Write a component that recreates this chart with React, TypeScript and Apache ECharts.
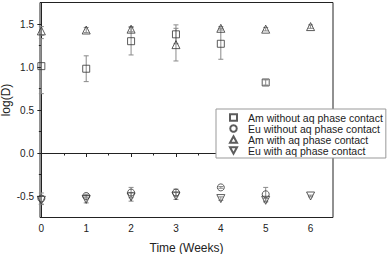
import React, { useEffect, useRef } from "react";
import * as echarts from "echarts";

const weeks = [0, 1, 2, 3, 4, 5, 6];
const amWithout = [1.01, 0.98, 1.3, 1.38, 1.27, 0.82, null];
const amWithoutErr = [0.32, 0.15, 0.16, 0.11, 0.18, 0.03, null];
const euWithout = [-0.53, -0.5, -0.46, -0.46, -0.4, -0.48, null];
const euWithoutErr = [0.065, 0.02, 0.06, 0.04, 0.01, 0.08, null];
const amWith = [1.42, 1.43, 1.44, 1.26, 1.45, 1.44, 1.47];
const amWithErr = [0.05, 0.03, 0.03, 0.19, 0.02, 0.02, 0.02];
const euWith = [-0.55, -0.54, -0.51, -0.5, -0.53, -0.55, -0.5];
const euWithErr = [0.05, 0.04, 0.05, 0.04, 0.02, 0.02, 0.01];

const xMajor = [0, 1, 2, 3, 4, 5, 6];
const xMinor = [0.5, 1.5, 2.5, 3.5, 4.5, 5.5, 6.5];
const yMajor = [-0.5, 0, 0.5, 1, 1.5];
const yMinor = [-0.25, 0.25, 0.75, 1.25];

const names = [
  "Am without aq phase contact",
  "Eu without aq phase contact",
  "Am with aq phase contact",
  "Eu with aq phase contact",
];
const xTitle = "Time (Weeks)";
const yTitle = "log(D)";

const FONT = "Liberation Sans, Arial, sans-serif";
const INK = "#222";

function pts(vals: (number | null)[]) {
  return weeks
    .map((w, i) => (vals[i] == null ? null : [w, vals[i] as number]))
    .filter((d) => d !== null);
}
function errs(vals: (number | null)[], e: (number | null)[]) {
  return weeks
    .map((w, i) =>
      vals[i] == null || e[i] == null
        ? null
        : [w, (vals[i] as number) - (e[i] as number), (vals[i] as number) + (e[i] as number)]
    )
    .filter((d) => d !== null);
}

const errorSeries = (data: any[]) => ({
  type: "custom",
  z: 1,
  silent: true,
  xAxisIndex: 0,
  yAxisIndex: 0,
  encode: { x: 0, y: [1, 2] },
  data,
  renderItem: (params: any, api: any) => {
    const x = api.value(0);
    const lo = api.coord([x, api.value(1)]);
    const hi = api.coord([x, api.value(2)]);
    const w = 2.5;
    const st = { stroke: "#8a8a8a", lineWidth: 1 };
    return {
      type: "group",
      children: [
        { type: "line", shape: { x1: lo[0], y1: lo[1], x2: hi[0], y2: hi[1] }, style: st },
        { type: "line", shape: { x1: lo[0] - w, y1: lo[1], x2: lo[0] + w, y2: lo[1] }, style: st },
        { type: "line", shape: { x1: hi[0] - w, y1: hi[1], x2: hi[0] + w, y2: hi[1] }, style: st },
      ],
    };
  },
});

const markerStyle = { color: "transparent", borderColor: "#333", borderWidth: 1 };

export default function App() {
  const ref = useRef<HTMLDivElement>(null);
  useEffect(() => {
    if (!ref.current) return;
    const chart = echarts.init(ref.current, null, { renderer: "svg" });
    chart.setOption({
      animation: false,
      backgroundColor: "#fff",
      textStyle: { fontFamily: FONT },
      grid: {
        left: 40,
        right: 54,
        top: 2.5,
        bottom: 36.5,
        show: true,
        borderColor: INK,
        borderWidth: 1,
        containLabel: false,
        outerBoundsMode: "none",
      },
      graphic: [
        {
          type: "text",
          x: 6,
          y: 100,
          rotation: Math.PI / 2,
          style: {
            text: yTitle,
            fontFamily: FONT,
            fontSize: 12,
            fill: INK,
            align: "center",
            verticalAlign: "middle",
          },
        },
      ],
      legend: {
        orient: "vertical",
        left: 216,
        top: 109,
        padding: [3, 3, 2, 13],
        itemGap: 0,
        itemWidth: 7,
        itemHeight: 6.5,
        backgroundColor: "#fff",
        borderColor: "#999",
        borderWidth: 1,
        borderRadius: 0,
        textStyle: {
          fontFamily: FONT,
          fontSize: 10.5,
          color: INK,
          lineHeight: 10.7,
          padding: [0, 0, 0, 6],
        },
        data: [
          { name: names[0] },
          { name: names[1] },
          { name: names[2] },
          { name: names[3], icon: "path://M0,0 L10,0 L5,9 Z" },
        ],
      },
      xAxis: [
        {
          type: "value",
          min: -0.03,
          max: 6.5,
          position: "bottom",
          name: xTitle,
          nameLocation: "middle",
          nameGap: 24,
          nameTextStyle: { fontFamily: FONT, fontSize: 12, color: INK },
          splitLine: { show: false },
          axisLine: { show: true, lineStyle: { color: INK, width: 1 } },
          axisTick: { show: true, customValues: xMajor, length: 4, lineStyle: { color: INK } },
          axisLabel: {
            show: true,
            customValues: xMajor,
            fontSize: 10,
            color: INK,
            margin: 6,
            formatter: (v: number) => String(v),
          },
        },
        {
          type: "value",
          min: -0.03,
          max: 6.5,
          position: "bottom",
          splitLine: { show: false },
          axisLine: { show: false },
          axisTick: { show: true, customValues: xMinor, length: 2.5, lineStyle: { color: INK } },
          axisLabel: { show: false },
        },
      ],
      yAxis: [
        {
          type: "value",
          min: -0.75,
          max: 1.75,
          position: "left",
          splitLine: { show: false },
          axisLine: { show: true, lineStyle: { color: INK, width: 1 } },
          axisTick: { show: true, customValues: yMajor, length: 4, lineStyle: { color: INK } },
          axisLabel: {
            show: true,
            customValues: yMajor,
            fontSize: 10,
            color: INK,
            margin: 6,
            formatter: (v: number) => v.toFixed(1),
          },
        },
        {
          type: "value",
          min: -0.75,
          max: 1.75,
          position: "left",
          splitLine: { show: false },
          axisLine: { show: false },
          axisTick: { show: true, customValues: yMinor, length: 2.5, lineStyle: { color: INK } },
          axisLabel: { show: false },
        },
      ],
      series: [
        errorSeries(errs(amWithout, amWithoutErr)),
        errorSeries(errs(euWithout, euWithoutErr)),
        errorSeries(errs(amWith, amWithErr)),
        errorSeries(errs(euWith, euWithErr)),
        {
          name: names[0],
          type: "scatter",
          symbol: "rect",
          symbolSize: 7,
          itemStyle: markerStyle,
          data: pts(amWithout),
          z: 3,
        },
        {
          name: names[1],
          type: "scatter",
          symbol: "circle",
          symbolSize: 7,
          itemStyle: markerStyle,
          data: pts(euWithout),
          z: 3,
        },
        {
          name: names[2],
          type: "scatter",
          symbol: "triangle",
          symbolSize: 8,
          itemStyle: markerStyle,
          data: pts(amWith),
          z: 3,
        },
        {
          name: names[3],
          type: "scatter",
          symbol: "triangle",
          symbolRotate: 180,
          symbolSize: 8,
          itemStyle: markerStyle,
          data: pts(euWith),
          z: 3,
        },
      ],
    });
    return () => chart.dispose();
  }, []);
  return (
    <div
      ref={ref}
      style={{ position: "fixed", left: 0, top: 0, width: 387, height: 254, background: "#fff" }}
    />
  );
}
